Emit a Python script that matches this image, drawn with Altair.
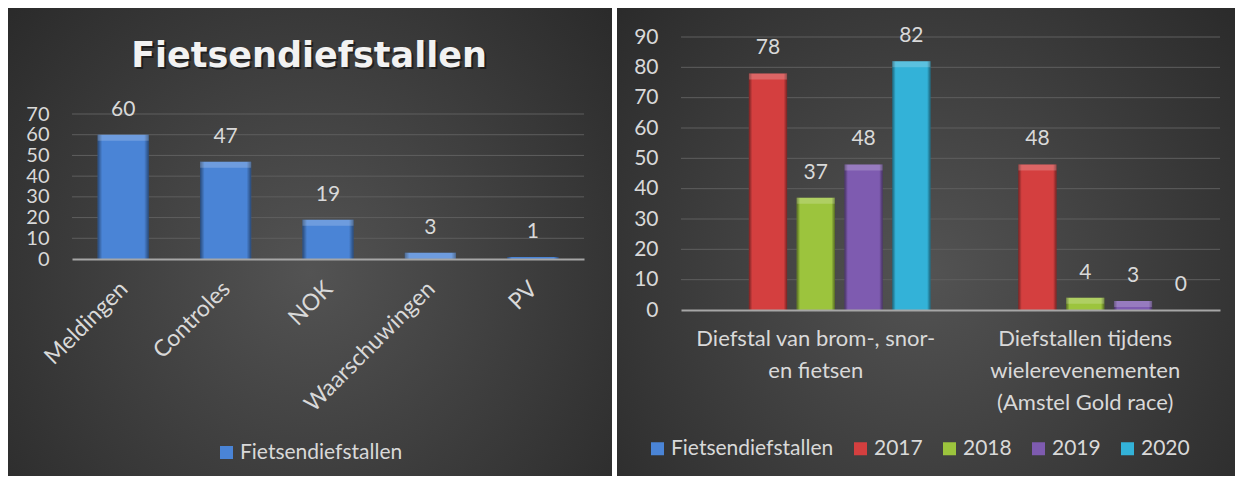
import json
import altair as alt
import pandas as pd

# ---------------- data ----------------
left_title = "Fietsendiefstallen"
left_series = "Fietsendiefstallen"
left_categories = ["Meldingen", "Controles", "NOK", "Waarschuwingen", "PV"]
left_values = [60, 47, 19, 3, 1]
left_ticks = [0, 10, 20, 30, 40, 50, 60, 70]

right_categories = [
    "Diefstal van brom-, snor- en fietsen",
    "Diefstallen tijdens wielerevenementen (Amstel Gold race)",
]
right_category_lines = [
    ["Diefstal van brom-, snor-", "en fietsen"],
    ["Diefstallen tijdens", "wielerevenementen", "(Amstel Gold race)"],
]
right_series = ["Fietsendiefstallen", "2017", "2018", "2019", "2020"]
values_2017 = [78, 48]
values_2018 = [37, 4]
values_2019 = [48, 3]
values_2020 = [82, 0]
right_ticks = [0, 10, 20, 30, 40, 50, 60, 70, 80, 90]

series_colors = ["#4a84d6", "#d43f3f", "#9cc43d", "#7e5bb0", "#33b2d8"]

# ---------------- styling ----------------
FONT = "Lato"
TXT = "#d9d9d9"
GRID = "#5e5e5e"
BASE = "#a6a6a6"
BG_GRAD = {
    "gradient": "radial",
    "x1": 0.5, "y1": 0.55, "r1": 0,
    "x2": 0.5, "y2": 0.55, "r2": 0.72,
    "stops": [
        {"offset": 0, "color": "#535353"},
        {"offset": 1, "color": "#272727"},
    ],
}
SHADE = {
    "gradient": "linear",
    "x1": 0, "y1": 0, "x2": 1, "y2": 0,
    "stops": [
        {"offset": 0, "color": "rgba(0,0,0,0.45)"},
        {"offset": 0.09, "color": "rgba(0,0,0,0)"},
        {"offset": 0.91, "color": "rgba(0,0,0,0)"},
        {"offset": 1, "color": "rgba(0,0,0,0.45)"},
    ],
}


def y_axis(ticks, size):
    return alt.Axis(
        title=None, values=ticks, labelFont=FONT, labelFontSize=size,
        labelColor=TXT, ticks=False, domain=False, grid=False,
        labelPadding=23, labelOverlap=False, labelFlush=False, zindex=1,
    )


def legend(x, y):
    return alt.Legend(
        title=None, orient="none", legendX=x, legendY=y,
        direction="horizontal", symbolType="square", symbolSize=169,
        symbolStrokeWidth=0, labelFont=FONT, labelFontSize=21,
        labelColor=TXT, labelOffset=3, columnPadding=16, labelLimit=400,
    )


# ---------------- left chart ----------------
# view spans from the panel's top plot line to the baseline; bars use the lower 145 px
LW, LH = 512, 222
df_left = pd.DataFrame({
    "category": left_categories,
    "value": left_values,
    "series": [left_series] * len(left_categories),
})
y_left_scale = alt.Scale(domain=[0, 70], nice=False, range=[LH, 77])

bg_left = alt.Chart(alt.Data(values=[{"k": 0}])).mark_rect(fill=BG_GRAD).encode(
    x=alt.value(-64), x2=alt.value(540), y=alt.value(-29), y2=alt.value(439)
)
grid_left = alt.Chart(pd.DataFrame({"value": left_ticks[1:]})).mark_rule(
    color=GRID, strokeWidth=1
).encode(
    y=alt.Y("value:Q", scale=y_left_scale, axis=y_axis(left_ticks, 20)),
    x=alt.value(0), x2=alt.value(LW),
)

base_left = alt.Chart(df_left).encode(
    x=alt.X(
        "category:N", sort=left_categories,
        scale=alt.Scale(paddingInner=0.5, paddingOuter=0.25),
        axis=alt.Axis(
            title=None, labelAngle=-45, labelAlign="right", labelBaseline="middle",
            labelFont=FONT, labelFontSize=23, labelColor=TXT, ticks=False,
            domainColor=BASE, domainWidth=2, labelPadding=26, labelOffset=1,
            labelLimit=400, labelOverlap=False, grid=False, zindex=1,
        ),
    ),
    y=alt.Y("value:Q", scale=y_left_scale, axis=y_axis(left_ticks, 20)),
)
bars_left = base_left.mark_bar().encode(
    color=alt.Color(
        "series:N",
        scale=alt.Scale(domain=[left_series], range=[series_colors[0]]),
        legend=legend(144, 405),
    )
)
shade_left = base_left.mark_bar(fill=SHADE)
cap_left = base_left.mark_tick(
    thickness=6, size=51, yOffset=3, color="white", opacity=0.2
).transform_filter("datum.value >= 3")
labels_left = base_left.mark_text(
    baseline="middle", dy=-25, font=FONT, fontSize=21, color=TXT
).encode(text="value:Q")

title_data = alt.Data(values=[{"t": left_title}])
title_shadow = alt.Chart(title_data).mark_text(
    font="DejaVu Sans", fontWeight="bold", fontSize=35, color="black",
    opacity=0.45, align="center", baseline="alphabetic",
).encode(text="t:N", x=alt.value(239), y=alt.value(32))
title_main = alt.Chart(title_data).mark_text(
    font="DejaVu Sans", fontWeight="bold", fontSize=35, color="#f2f2f2",
    align="center", baseline="alphabetic",
).encode(text="t:N", x=alt.value(237), y=alt.value(30))

left = alt.layer(
    bg_left, grid_left, bars_left, shade_left, cap_left, labels_left,
    title_shadow, title_main,
).properties(width=LW, height=LH)

# ---------------- right chart ----------------
RW, RH = 539, 273
rows = []
for series_name, vals in zip(right_series[1:], [values_2017, values_2018, values_2019, values_2020]):
    for cat, v in zip(right_categories, vals):
        rows.append({"category": cat, "series": series_name, "value": v})
df_right = pd.DataFrame(rows)
y_right_scale = alt.Scale(domain=[0, 90], nice=False)

label_map = {c: lines for c, lines in zip(right_categories, right_category_lines)}
label_expr = " : ".join(
    f"datum.value == {json.dumps(c)} ? {json.dumps(l)}" for c, l in label_map.items()
) + " : datum.label"

bg_right = alt.Chart(alt.Data(values=[{"k": 0}])).mark_rect(fill=BG_GRAD).encode(
    x=alt.value(-64), x2=alt.value(554), y=alt.value(-29), y2=alt.value(439)
)
grid_right = alt.Chart(pd.DataFrame({"value": right_ticks[1:]})).mark_rule(
    color=GRID, strokeWidth=1
).encode(
    y=alt.Y("value:Q", scale=y_right_scale, axis=y_axis(right_ticks, 21)),
    x=alt.value(0), x2=alt.value(RW),
)
base_right = alt.Chart(df_right).encode(
    x=alt.X(
        "category:N", sort=right_categories,
        scale=alt.Scale(paddingInner=0.113, paddingOuter=0.0567),
        axis=alt.Axis(
            title=None, labelAngle=0, labelAlign="center", labelBaseline="top",
            labelFont=FONT, labelFontSize=22, labelColor=TXT, ticks=False,
            domainColor=BASE, domainWidth=2, labelPadding=18,
            labelLineHeight=32, labelExpr=label_expr, labelLimit=400,
            labelOverlap=False, grid=False, zindex=1,
        ),
    ),
    xOffset=alt.XOffset(
        "series:N", sort=right_series,
        scale=alt.Scale(domain=right_series, paddingInner=0.2, paddingOuter=0.1),
    ),
    y=alt.Y("value:Q", scale=y_right_scale, axis=y_axis(right_ticks, 21)),
)
bars_right = base_right.mark_bar().encode(
    color=alt.Color(
        "series:N",
        scale=alt.Scale(domain=right_series, range=series_colors),
        legend=legend(-34, 401),
    )
)
shade_right = base_right.mark_bar(fill=SHADE).transform_filter("datum.value > 0")
cap_right = base_right.mark_tick(
    thickness=6, size=38, yOffset=3, color="white", opacity=0.2
).transform_filter("datum.value >= 2")
labels_right = base_right.mark_text(
    baseline="middle", dy=-25, font=FONT, fontSize=21, color=TXT
).encode(text="value:Q")

right = alt.layer(
    bg_right, grid_right, bars_right, shade_right, cap_right, labels_right
).properties(width=RW, height=RH)

chart = (
    alt.hconcat(left, right, spacing=5)
    .resolve_scale(color="independent", x="independent", y="independent")
    .resolve_legend(color="independent")
    .configure(background="white", padding=0)
    .configure_view(stroke=None)
)

chart.save("out.html", embed_options={"renderer": "svg", "actions": False})
